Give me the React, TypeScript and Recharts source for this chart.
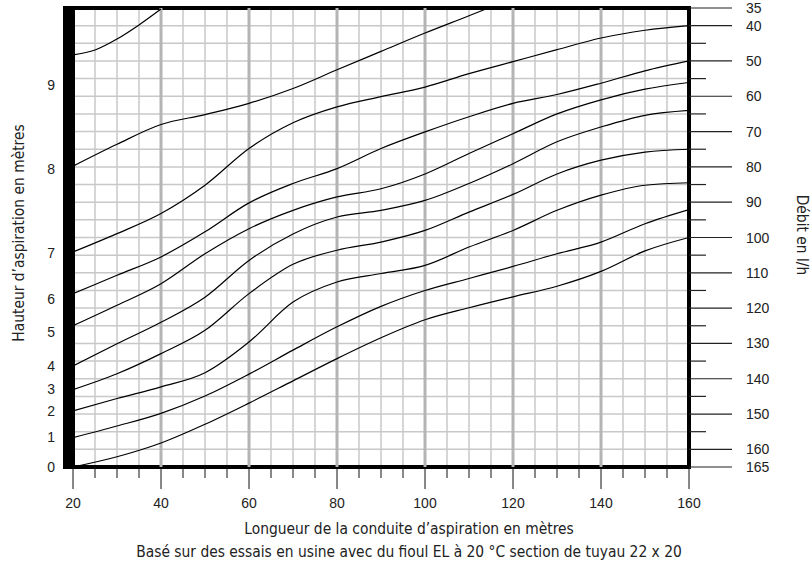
import { LineChart, Line, XAxis, YAxis, CartesianGrid, ReferenceLine, ReferenceArea } from "recharts";

// longueur de conduite (m)
const lengths = [20, 30, 40, 50, 60, 70, 80, 90, 100, 110, 120, 130, 140, 150, 160];
const lengthsTop8 = [20, 30, 40, 50, 60, 70, 80, 90, 100, 110, 114];
const lengthsTop9 = [20, 25, 30, 35, 40];

const curve0 = [165, 162.1, 158.2, 152.9, 146.9, 140.6, 134.3, 128.4, 123.3, 119.9, 116.8, 113.8, 109.6, 103.8, 100];
const curve1 = [156.7, 153.4, 149.8, 144.9, 138.7, 131.9, 125.3, 119.5, 115, 111.6, 108.2, 104.6, 101.3, 96.1, 92.1];
const curve2 = [149.1, 145.6, 142.3, 138.3, 129.6, 118.3, 112.6, 110.2, 107.9, 102.7, 98, 92.3, 88, 85.2, 84.5];
const curve3 = [143.1, 138.6, 132.9, 126.3, 115.9, 107.6, 103.6, 101.3, 98, 92.8, 87.8, 82, 78.1, 75.8, 75];
const curve4 = [136.4, 130.1, 124, 116.9, 106.5, 99, 94.2, 92.3, 89.5, 84.7, 79.1, 72.9, 68.7, 65.4, 64];
const curve5 = [125, 119.2, 113.1, 104.6, 97.5, 92.3, 88.5, 86.2, 82, 76.2, 70.6, 65, 61, 58, 56.1];
const curve6 = [115.9, 110.7, 105.5, 98.4, 90.2, 84.7, 80.5, 74.8, 70.1, 65.8, 62, 59.5, 56.3, 52.8, 50];
const curve7 = [104.1, 98.9, 93.2, 85.2, 74.8, 67.5, 63, 60.1, 57.4, 53.6, 50.2, 46.8, 43.5, 41.3, 40];
const curve8 = [79.8, 73.6, 68, 65.2, 62, 57.8, 52.5, 47.3, 42.1, 37.2, 35.2];
const curve9 = [48.3, 46.9, 43.8, 39.8, 35.3];

// axe X
const xTicks = [20, 25, 30, 35, 40, 45, 50, 55, 60, 65, 70, 75, 80, 85, 90, 95, 100, 105, 110, 115, 120, 125, 130, 135, 140, 145, 150, 155, 160];
const xLabelled = [20, 40, 60, 80, 100, 120, 140, 160];
const xHeavy = [40, 60, 80, 100, 120, 140];

// axe débit (droite)
const debitTicks = [35, 40, 45, 50, 55, 60, 65, 70, 75, 80, 85, 90, 95, 100, 105, 110, 115, 120, 125, 130, 135, 140, 145, 150, 155, 160, 165];
const debitLabelled = [35, 40, 50, 60, 70, 80, 90, 100, 110, 120, 130, 140, 150, 160, 165];

// axe hauteur (gauche), position exprimée sur l'échelle débit
const heightLabels = ["0", "1", "2", "3", "4", "5", "6", "7", "8", "9"];
const heightPos = [165, 156.4, 149, 142.9, 136.5, 126.8, 117.3, 104.3, 80.7, 56.8];

const toPoints = (xs: number[], ys: number[]) => xs.map((x, i) => ({ x, v: ys[i] }));

const series = [
  toPoints(lengths, curve0),
  toPoints(lengths, curve1),
  toPoints(lengths, curve2),
  toPoints(lengths, curve3),
  toPoints(lengths, curve4),
  toPoints(lengths, curve5),
  toPoints(lengths, curve6),
  toPoints(lengths, curve7),
  toPoints(lengthsTop8, curve8),
  toPoints(lengthsTop9, curve9),
];

const FONT = "'Liberation Sans', Arial, sans-serif";
const NARROW = "'Liberation Sans Narrow', 'DejaVu Sans Condensed', sans-serif";

const XTick = (props: any) => {
  const { x, y, payload } = props;
  const major = xLabelled.includes(payload.value);
  return (
    <g>
      <line x1={x} x2={x} y1={y} y2={y + (major ? 22 : 11)} stroke="#111" strokeWidth={1} />
      {major && (
        <text x={x} y={y + 41} textAnchor="middle" fontSize={14} fontFamily={FONT} fill="#222">
          {payload.value}
        </text>
      )}
    </g>
  );
};

const RTick = (props: any) => {
  const { x, y, payload } = props;
  const major = debitLabelled.includes(payload.value);
  return (
    <g>
      <line x1={x} x2={x + (major ? 43 : 17)} y1={y} y2={y} stroke="#222" strokeWidth={1.2} />
      {major && (
        <text x={x + 57} y={y + 5} textAnchor="start" fontSize={14} fontFamily={FONT} fill="#222">
          {payload.value}
        </text>
      )}
    </g>
  );
};

const LTick = (props: any) => {
  const { x, y, payload } = props;
  const i = heightPos.indexOf(payload.value);
  return (
    <text x={x - 18} y={y + 5} textAnchor="end" fontSize={14} fontFamily={FONT} fill="#222">
      {heightLabels[i]}
    </text>
  );
};

const Frame = (props: any) => {
  const { x, y, width, height } = props;
  return (
    <g>
      <rect x={x} y={y} width={width} height={height} fill="none" stroke="#000" strokeWidth={4} />
      <rect x={x - 10} y={y - 2} width={11} height={height + 4} fill="#000" />
    </g>
  );
};

export default function App() {
  return (
    <div style={{ position: "absolute", left: 0, top: 0, background: "#fff" }}>
      <LineChart width={812} height={567} margin={{ top: 8, right: 63, bottom: 60, left: 33 }}>
        <CartesianGrid yAxisId="r" stroke="#c8c8c8" strokeWidth={1.5} />
        <XAxis
          dataKey="x"
          type="number"
          domain={[20, 160]}
          ticks={xTicks}
          interval={0}
          tick={<XTick />}
          tickLine={false}
          axisLine={false}
          tickSize={0}
          tickMargin={0}
          height={40}
          allowDataOverflow
        />
        <YAxis
          yAxisId="l"
          orientation="left"
          type="number"
          domain={[35, 165]}
          reversed
          ticks={heightPos}
          interval={0}
          tick={<LTick />}
          tickLine={false}
          axisLine={false}
          tickSize={0}
          tickMargin={0}
          width={40}
          allowDataOverflow
        />
        <YAxis
          yAxisId="r"
          orientation="right"
          type="number"
          domain={[35, 165]}
          reversed
          ticks={debitTicks}
          interval={0}
          tick={<RTick />}
          tickLine={false}
          axisLine={false}
          tickSize={0}
          tickMargin={0}
          width={60}
          allowDataOverflow
        />
        {xHeavy.map((v) => (
          <ReferenceLine key={v} x={v} yAxisId="r" stroke="#b4b4b4" strokeWidth={3} />
        ))}
        {series.map((d, i) => (
          <Line
            key={i}
            yAxisId="r"
            data={d}
            dataKey="v"
            type="monotone"
            stroke="#000"
            strokeWidth={1.2}
            dot={false}
            isAnimationActive={false}
          />
        ))}
        <ReferenceArea yAxisId="r" x1={20} x2={160} y1={35} y2={165} shape={<Frame />} ifOverflow="visible" />
        <text x={409} y={534} textAnchor="middle" fontSize={15.4} fontFamily={NARROW} fill="#222">
          Longueur de la conduite d’aspiration en mètres
        </text>
        <text x={409} y={557} textAnchor="middle" fontSize={15.4} fontFamily={NARROW} fill="#222">
          Basé sur des essais en usine avec du fioul EL à 20 °C section de tuyau 22 x 20
        </text>
        <text x={24} y={233} transform="rotate(-90 24 233)" textAnchor="middle" fontSize={15.4} fontFamily={NARROW} fill="#222">
          Hauteur d’aspiration en mètres
        </text>
        <text x={797} y={235} transform="rotate(90 797 235)" textAnchor="middle" fontSize={15.4} fontFamily={NARROW} fill="#222">
          Débit en l/h
        </text>
      </LineChart>
    </div>
  );
}
